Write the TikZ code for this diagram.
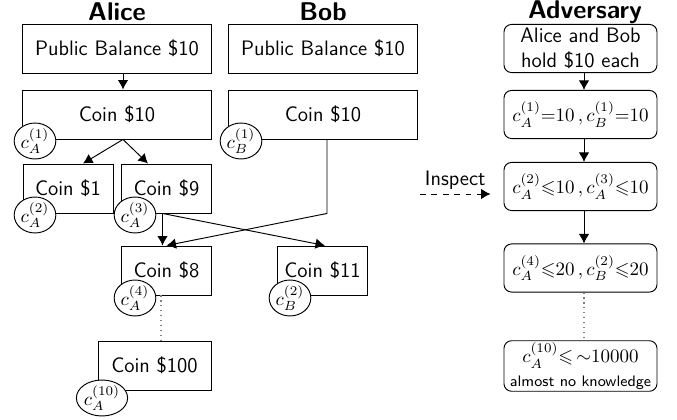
\documentclass[tikz,border=0pt]{standalone}
\usepackage{amssymb}
\usetikzlibrary{arrows.meta,calc,shapes.geometric}

\begin{document}
\begin{tikzpicture}[x=0.0185cm,y=-0.0185cm,font=\fontsize{11}{13.5}\selectfont\sffamily,
    coinbox/.style={draw,line width=0.5pt,minimum height=0.906cm,inner sep=2pt},
    advbox/.style={draw,line width=0.5pt,rounded corners=4pt,minimum width=2.83cm,minimum height=0.89cm,inner sep=1pt,align=center},
    ownerlbl/.style={draw,ellipse,fill=white,line width=0.5pt,inner sep=0pt,minimum width=0.77cm,minimum height=0.57cm,font=\fontsize{10}{12}\selectfont},
    header/.style={font=\fontsize{13.5}{16}\selectfont\sffamily\bfseries},
    advmath/.style={font=\fontsize{10}{12}\selectfont},
    arr/.style={line width=0.5pt,-{Latex[length=5pt,width=5.5pt]}}]
    \useasboundingbox (0,0) rectangle (677,420);

    \node[header] (alice) at (117,12) {Alice};
    \node[header] (bob) at (323,12) {Bob};
    \node[header] (adversary) at (585,12) {Adversary};

    \node[coinbox,minimum width=3.478cm] (pubA) at (117,48.5) {Public Balance \$10};
    \node[coinbox,minimum width=3.478cm] (coinA10) at (117,114.5) {Coin \$10};
    \node[coinbox,minimum width=3.478cm] (pubB) at (323,48.5) {Public Balance \$10};
    \node[coinbox,minimum width=3.478cm] (coinB10) at (323,114.5) {Coin \$10};
    \node[coinbox,minimum width=1.665cm] (coin1) at (68,188.5) {Coin \$1};
    \node[coinbox,minimum width=1.647cm] (coin9) at (166.5,188.5) {Coin \$9};
    \node[coinbox,minimum width=1.647cm] (coin8) at (166.5,270.5) {Coin \$8};
    \node[coinbox,minimum width=1.647cm] (coin11) at (322.5,270.5) {Coin \$11};
    \node[coinbox,minimum width=2.09cm] (coin100) at (154.5,365.5) {Coin \$100};

    \node[ownerlbl] (cA1) at (35,141) {$c_A^{(1)}$};
    \node[ownerlbl] (cB1) at (241,141) {$c_B^{(1)}$};
    \node[ownerlbl] (cA2) at (35,215) {$c_A^{(2)}$};
    \node[ownerlbl] (cA3) at (135,215) {$c_A^{(3)}$};
    \node[ownerlbl] (cA4) at (135,298) {$c_A^{(4)}$};
    \node[ownerlbl] (cB2) at (290,298) {$c_B^{(2)}$};
    \node[ownerlbl] (cA10) at (102,398) {$c_A^{(10)}$};

    \draw[arr] ($(pubA.south)+(6,0)$) -- ($(coinA10.north)+(6,0)$);
    \draw[arr] ($(coinA10.south)+(6,0)$) -- ($(coin1.north)+(15,0)$);
    \draw[arr] ($(coinA10.south)+(6,0)$) -- ($(coin9.north)+(-18.5,0)$);
    \draw[arr] ($(coin9.south)+(-4,0)$) -- ($(coin8.north)+(-4,0)$);
    \draw[arr] ($(coin9.south)+(-4,0)$) -- ($(coin11.north)+(2.5,0)$);
    \draw[arr] ($(coinB10.south)+(4,0)$) -- ($(coinB10.south)+(4,74)$) -- (coin8.north);
    \draw[dotted,gray,line width=0.6pt] ($(coin8.south)+(-5.5,0)$) -- ($(coin100.north)+(6.5,0)$);

    \node[advbox] (adv1) at (580.5,48.5) {Alice and Bob\\hold \$10 each};
    \node[advbox,advmath] (adv2) at (580.5,114.5) {$c_A^{(1)}{=}10\,,c_B^{(1)}{=}10$};
    \node[advbox,advmath] (adv3) at (580.5,186.5) {$c_A^{(2)}{\leqslant}10\,,c_A^{(3)}{\leqslant}10$};
    \node[advbox,advmath] (adv4) at (580.5,268) {$c_A^{(4)}{\leqslant}20\,,c_B^{(2)}{\leqslant}20$};
    \node[advbox] (adv5) at (580.5,366) {{\fontsize{10}{12}\selectfont$c_A^{(10)}{\leqslant}\,{\sim}10000$}\\[-1pt]{\fontsize{8}{10}\selectfont almost no knowledge}};

    \draw[arr] ($(adv1.south)+(3.5,0)$) -- ($(adv2.north)+(3.5,0)$);
    \draw[arr] ($(adv2.south)+(3.5,0)$) -- ($(adv3.north)+(3.5,0)$);
    \draw[arr] ($(adv3.south)+(3.5,0)$) -- ($(adv4.north)+(3.5,0)$);
    \draw[dotted,gray,line width=0.6pt] ($(adv4.south)+(3.5,0)$) -- ($(adv5.north)+(3.5,0)$);

    \coordinate (inspFrom) at (420,194);
    \draw[arr,dashed] (inspFrom) -- node[above=-1pt] {Inspect} ([xshift=-0.24cm]inspFrom -| adv3.west);
\end{tikzpicture}
\end{document}
